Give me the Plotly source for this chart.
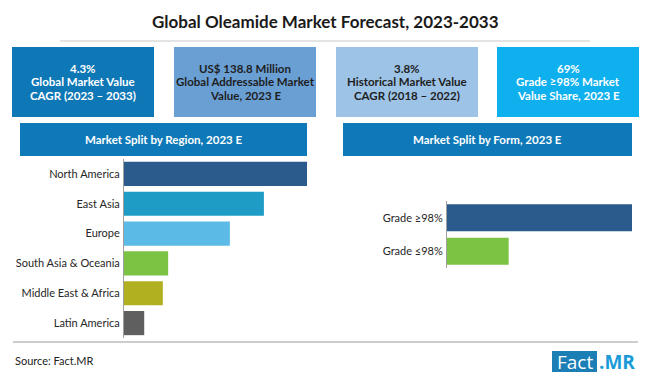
import plotly.graph_objects as go

W, H = 650, 377

# ---- data ----
regions = ["North America", "East Asia", "Europe", "South Asia & Oceania",
           "Middle East & Africa", "Latin America"]
region_share = [34.4, 26.3, 19.9, 8.3, 7.3, 3.8]
region_colors = ["#2a5b8c", "#1f9cc6", "#5bbbe6", "#7cc243", "#b1b021", "#5f5f5f"]

forms = ["Grade ≥98%", "Grade ≤98%"]
form_share = [69, 23]
form_colors = ["#2a5b8c", "#7cc243"]

kpi_values = ["4.3%", "US$ 138.8 Million", "3.8%", "69%"]
kpi_line2 = ["Global Market Value", "Global Addressable Market",
             "Historical Market Value", "Grade ≥98% Market"]
kpi_line3 = ["CAGR (2023 – 2033)", "Value, 2023 E",
             "CAGR (2018 – 2022)", "Value Share, 2023 E"]
kpi_fill = ["#0e77b6", "#6a9fd4", "#9dc3e6", "#0fb0ee"]
kpi_text = ["white", "#1e1e1e", "#1e1e1e", "white"]

title = "Global Oleamide Market Forecast, 2023-2033"
panel_titles = ["Market Split by Region, 2023 E", "Market Split by Form, 2023 E"]
source = "Source: Fact.MR"


def px(x):
    return x / W


def py(y):
    return 1 - y / H


fig = go.Figure()
fig.add_trace(go.Bar(x=region_share, y=regions, orientation="h",
                     marker=dict(color=region_colors, line=dict(width=0)),
                     xaxis="x", yaxis="y", hoverinfo="skip"))
fig.add_trace(go.Bar(x=form_share, y=forms, orientation="h",
                     marker=dict(color=form_colors, line=dict(width=0)),
                     xaxis="x2", yaxis="y2", hoverinfo="skip"))

FONT = "Lato"
shapes = []
annotations = []

# title
annotations.append(dict(x=0.5, y=py(21), xref="paper", yref="paper", text="<b>" + title + "</b>",
                        showarrow=False, font=dict(family=FONT, size=17, color="#1a1a1a"),
                        xanchor="center", yanchor="middle"))
shapes.append(dict(type="line", xref="paper", yref="paper", x0=px(60), x1=px(590),
                   y0=py(41), y1=py(41), line=dict(color="#c8c8c8", width=1)))

# KPI boxes
lefts = [12, 174, 336, 497]
for i, l in enumerate(lefts):
    shapes.append(dict(type="rect", xref="paper", yref="paper", x0=px(l), x1=px(l + 142),
                       y0=py(117), y1=py(47), fillcolor=kpi_fill[i], line=dict(width=0),
                       layer="below"))
    for txt, yy in zip([kpi_values[i], kpi_line2[i], kpi_line3[i]], [68.5, 82, 95.5]):
        annotations.append(dict(x=px(l + 71), y=py(yy), xref="paper", yref="paper",
                                text="<b>" + txt + "</b>",
                                showarrow=False, align="center",
                                font=dict(family=FONT, size=11.5, color=kpi_text[i]),
                                xanchor="center", yanchor="middle"))

# panel banners
banners = [(20, 307), (343, 632)]
for (a, b), t in zip(banners, panel_titles):
    shapes.append(dict(type="rect", xref="paper", yref="paper", x0=px(a), x1=px(b),
                       y0=py(156), y1=py(123), fillcolor="#0e79b8", line=dict(width=0),
                       layer="below"))
    annotations.append(dict(x=px((a + b) / 2), y=py(139.5), xref="paper", yref="paper",
                            text="<b>" + t + "</b>", showarrow=False,
                            font=dict(family=FONT, size=11.5, color="white"),
                            xanchor="center", yanchor="middle"))

# bottom line, source, logo
shapes.append(dict(type="line", xref="paper", yref="paper", x0=px(13), x1=px(638),
                   y0=py(342), y1=py(342), line=dict(color="#9a9a9a", width=1)))
annotations.append(dict(x=px(13), y=py(360), xref="paper", yref="paper", text=source,
                        showarrow=False, font=dict(family=FONT, size=11, color="#222"),
                        xanchor="left", yanchor="middle"))
shapes.append(dict(type="rect", xref="paper", yref="paper", x0=px(552), x1=px(597),
                   y0=py(372), y1=py(351), fillcolor="#1b7fb6", line=dict(width=0)))
annotations.append(dict(x=px(574.5), y=py(361.5), xref="paper", yref="paper", text="Fact",
                        showarrow=False, font=dict(family="Open Sans", size=19, color="white"),
                        xanchor="center", yanchor="middle"))
annotations.append(dict(x=px(597), y=py(361.5), xref="paper", yref="paper", text="<b>.MR</b>",
                        showarrow=False, font=dict(family="Open Sans", size=19, color="#1a9bd8"),
                        xanchor="left", yanchor="middle"))

fig.update_layout(
    width=W, height=H, margin=dict(l=0, r=0, t=0, b=0),
    paper_bgcolor="white", plot_bgcolor="white", showlegend=False,
    bargap=0.19,
    xaxis=dict(domain=[px(124), px(307)], range=[0, max(region_share)], visible=False,
               fixedrange=True),
    yaxis=dict(domain=[py(338), py(159)], autorange="reversed", showline=True,
               linecolor="#a0a0a0", linewidth=1, showgrid=False, ticks="",
               tickfont=dict(family=FONT, size=11, color="#262626"), ticklabelstandoff=1,
               zeroline=False),
    xaxis2=dict(domain=[px(447), px(632)], range=[0, max(form_share)], visible=False,
                anchor="y2", fixedrange=True),
    yaxis2=dict(domain=[py(268), py(201)], autorange="reversed", showline=True,
                linecolor="#a0a0a0", linewidth=1, showgrid=False, ticks="",
                tickfont=dict(family=FONT, size=11, color="#262626"), ticklabelstandoff=1,
                anchor="x2", zeroline=False),
    shapes=shapes, annotations=annotations,
)

fig.write_html("out.html", config={"displayModeBar": False},
               post_script="document.body.style.margin='0';document.body.style.overflow='hidden';")
